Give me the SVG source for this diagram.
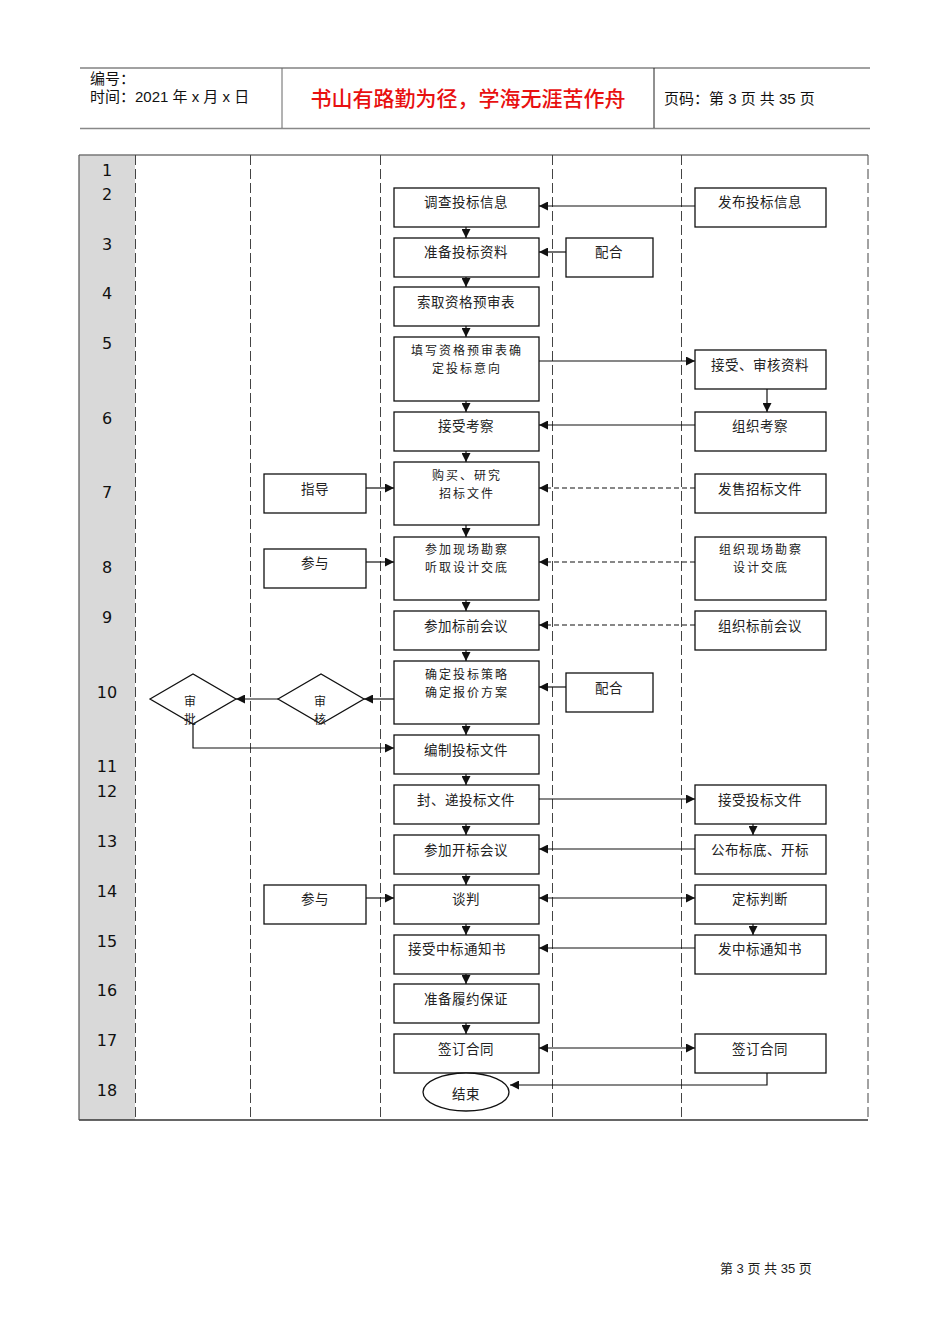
<svg xmlns="http://www.w3.org/2000/svg" width="950" height="1344" viewBox="0 0 950 1344">
<style>
.hdr{font-family:"Liberation Sans","Noto Sans CJK SC",sans-serif;font-size:15px;fill:#111}
.title{font-family:"Noto Sans CJK SC",sans-serif;font-size:21px;font-weight:500;fill:#e81010;text-anchor:middle}
.num{font-family:"DejaVu Sans","Liberation Sans",sans-serif;font-size:16px;fill:#111;text-anchor:middle;dominant-baseline:central}
.box{fill:#fff;stroke:#111;stroke-width:1.3}
.t{font-family:"Noto Sans CJK SC",sans-serif;font-size:13.5px;fill:#222;text-anchor:middle;dominant-baseline:central;letter-spacing:0.5px}
.t2{font-family:"Noto Sans CJK SC",sans-serif;font-size:12px;fill:#222;text-anchor:middle;dominant-baseline:central;letter-spacing:2px}
.lane{stroke:#444;stroke-width:1;stroke-dasharray:10,4;fill:none}
.ln{stroke:#111;stroke-width:1.2;fill:none}
.dl{stroke:#111;stroke-width:1.2;fill:none;stroke-dasharray:5,3}
.foot{font-family:"Liberation Sans","Noto Sans CJK SC",sans-serif;font-size:13px;fill:#222}
</style>
<defs>
<marker id="ah" viewBox="0 0 10 10" refX="10" refY="5" markerWidth="9" markerHeight="9" markerUnits="userSpaceOnUse" orient="auto-start-reverse">
<path d="M0,0 L10,5 L0,10 z" fill="#111"/>
</marker>
</defs>
<rect width="950" height="1344" fill="#fff"/>
<g id="header">
<line x1="80" y1="68" x2="870" y2="68" stroke="#444" stroke-width="1.2"/>
<line x1="80" y1="128.5" x2="870" y2="128.5" stroke="#888" stroke-width="1.5"/>
<line x1="282" y1="68" x2="282" y2="128" stroke="#666" stroke-width="1"/>
<line x1="654" y1="68" x2="654" y2="128" stroke="#222" stroke-width="1"/>
<text class="hdr" x="90" y="84">编号：</text>
<text class="hdr" x="90" y="102">时间：2021 年 x 月 x 日</text>
<text class="title" x="468" y="106">书山有路勤为径，学海无涯苦作舟</text>
<text class="hdr" x="664" y="104">页码：第 3 页 共 35 页</text>
</g>
<g id="table">
<rect x="79" y="155" width="56" height="965" fill="#d9d9d9"/>
<line x1="79" y1="155" x2="868" y2="155" stroke="#777" stroke-width="1.5"/>
<line x1="79" y1="1120" x2="868" y2="1120" stroke="#333" stroke-width="1.5"/>
<line x1="79" y1="155" x2="79" y2="1120" stroke="#555" stroke-width="1.2"/>
<line class="lane" x1="135.5" y1="155" x2="135.5" y2="1120"/>
<line class="lane" x1="250.5" y1="155" x2="250.5" y2="1120"/>
<line class="lane" x1="380.5" y1="155" x2="380.5" y2="1120"/>
<line class="lane" x1="552.5" y1="155" x2="552.5" y2="1120"/>
<line class="lane" x1="681.5" y1="155" x2="681.5" y2="1120"/>
<line class="lane" x1="868" y1="155" x2="868" y2="1120"/>
<text class="num" x="107" y="170">1</text>
<text class="num" x="107" y="194">2</text>
<text class="num" x="107" y="244">3</text>
<text class="num" x="107" y="293">4</text>
<text class="num" x="107" y="343">5</text>
<text class="num" x="107" y="418">6</text>
<text class="num" x="107" y="492">7</text>
<text class="num" x="107" y="567">8</text>
<text class="num" x="107" y="617">9</text>
<text class="num" x="107" y="692">10</text>
<text class="num" x="107" y="766">11</text>
<text class="num" x="107" y="791">12</text>
<text class="num" x="107" y="841">13</text>
<text class="num" x="107" y="891">14</text>
<text class="num" x="107" y="941">15</text>
<text class="num" x="107" y="990">16</text>
<text class="num" x="107" y="1040">17</text>
<text class="num" x="107" y="1090">18</text>
</g>
<g id="connectors">
<line class="ln" x1="466" y1="227" x2="466" y2="238" marker-end="url(#ah)"/>
<line class="ln" x1="466" y1="277" x2="466" y2="287" marker-end="url(#ah)"/>
<line class="ln" x1="466" y1="326" x2="466" y2="337" marker-end="url(#ah)"/>
<line class="ln" x1="466" y1="401" x2="466" y2="412" marker-end="url(#ah)"/>
<line class="ln" x1="466" y1="451" x2="466" y2="462" marker-end="url(#ah)"/>
<line class="ln" x1="466" y1="525" x2="466" y2="537" marker-end="url(#ah)"/>
<line class="ln" x1="466" y1="600" x2="466" y2="611" marker-end="url(#ah)"/>
<line class="ln" x1="466" y1="650" x2="466" y2="661" marker-end="url(#ah)"/>
<line class="ln" x1="466" y1="724" x2="466" y2="735" marker-end="url(#ah)"/>
<line class="ln" x1="466" y1="774" x2="466" y2="785" marker-end="url(#ah)"/>
<line class="ln" x1="466" y1="824" x2="466" y2="835" marker-end="url(#ah)"/>
<line class="ln" x1="466" y1="874" x2="466" y2="885" marker-end="url(#ah)"/>
<line class="ln" x1="466" y1="924" x2="466" y2="935" marker-end="url(#ah)"/>
<line class="ln" x1="466" y1="974" x2="466" y2="984" marker-end="url(#ah)"/>
<line class="ln" x1="466" y1="1023" x2="466" y2="1034" marker-end="url(#ah)"/>
<line class="ln" x1="695" y1="206" x2="539" y2="206" marker-end="url(#ah)"/>
<line class="ln" x1="566" y1="252" x2="539" y2="252" marker-end="url(#ah)"/>
<line class="ln" x1="539" y1="361" x2="695" y2="361" marker-end="url(#ah)"/>
<line class="ln" x1="767" y1="389" x2="767" y2="412" marker-end="url(#ah)"/>
<line class="ln" x1="695" y1="425" x2="539" y2="425" marker-end="url(#ah)"/>
<line class="dl" x1="695" y1="488" x2="539" y2="488" marker-end="url(#ah)"/>
<line class="ln" x1="366" y1="488" x2="394" y2="488" marker-end="url(#ah)"/>
<line class="ln" x1="366" y1="562" x2="394" y2="562" marker-end="url(#ah)"/>
<line class="dl" x1="695" y1="562" x2="539" y2="562" marker-end="url(#ah)"/>
<line class="dl" x1="695" y1="625" x2="539" y2="625" marker-end="url(#ah)"/>
<line class="ln" x1="566" y1="687" x2="539" y2="687" marker-end="url(#ah)"/>
<line class="ln" x1="394" y1="699" x2="364" y2="699" marker-end="url(#ah)"/>
<line class="ln" x1="278" y1="699" x2="236" y2="699" marker-end="url(#ah)"/>
<polyline class="ln" points="193,724 193,748 394,748" marker-end="url(#ah)"/>
<line class="ln" x1="539" y1="799" x2="695" y2="799" marker-end="url(#ah)"/>
<line class="ln" x1="753" y1="824" x2="753" y2="835" marker-end="url(#ah)"/>
<line class="ln" x1="695" y1="849" x2="539" y2="849" marker-end="url(#ah)"/>
<line class="ln" x1="539" y1="898" x2="695" y2="898" marker-start="url(#ah)" marker-end="url(#ah)"/>
<line class="ln" x1="366" y1="898" x2="394" y2="898" marker-end="url(#ah)"/>
<line class="ln" x1="753" y1="924" x2="753" y2="935" marker-end="url(#ah)"/>
<line class="ln" x1="695" y1="948" x2="539" y2="948" marker-end="url(#ah)"/>
<line class="ln" x1="539" y1="1048" x2="695" y2="1048" marker-start="url(#ah)" marker-end="url(#ah)"/>
<polyline class="ln" points="767,1073 767,1085 510,1085" marker-end="url(#ah)"/>
</g>
<g id="n1"><rect class="box" x="394" y="188" width="145" height="39"/><text class="t" x="466" y="201">调查投标信息</text></g>
<g id="n2"><rect class="box" x="394" y="238" width="145" height="39"/><text class="t" x="466" y="251">准备投标资料</text></g>
<g id="n3"><rect class="box" x="394" y="287" width="145" height="39"/><text class="t" x="466" y="301">索取资格预审表</text></g>
<g id="n4"><rect class="box" x="394" y="337" width="145" height="64"/><text class="t2" x="467" y="349">填写资格预审表确</text><text class="t2" x="467" y="367">定投标意向</text></g>
<g id="n5"><rect class="box" x="394" y="412" width="145" height="39"/><text class="t" x="466" y="425">接受考察</text></g>
<g id="n6"><rect class="box" x="394" y="462" width="145" height="63"/><text class="t2" x="467" y="474">购买、研究</text><text class="t2" x="467" y="492">招标文件</text></g>
<g id="n7"><rect class="box" x="394" y="537" width="145" height="63"/><text class="t2" x="467" y="548">参加现场勘察</text><text class="t2" x="467" y="566">听取设计交底</text></g>
<g id="n8"><rect class="box" x="394" y="611" width="145" height="39"/><text class="t" x="466" y="625">参加标前会议</text></g>
<g id="n9"><rect class="box" x="394" y="661" width="145" height="63"/><text class="t2" x="467" y="673">确定投标策略</text><text class="t2" x="467" y="691">确定报价方案</text></g>
<g id="n10"><rect class="box" x="394" y="735" width="145" height="39"/><text class="t" x="466" y="749">编制投标文件</text></g>
<g id="n11"><rect class="box" x="394" y="785" width="145" height="39"/><text class="t" x="466" y="799">封、递投标文件</text></g>
<g id="n12"><rect class="box" x="394" y="835" width="145" height="39"/><text class="t" x="466" y="849">参加开标会议</text></g>
<g id="n13"><rect class="box" x="394" y="885" width="145" height="39"/><text class="t" x="466" y="898">谈判</text></g>
<g id="n14"><rect class="box" x="394" y="935" width="145" height="39"/><text class="t" x="457" y="948">接受中标通知书</text></g>
<g id="n15"><rect class="box" x="394" y="984" width="145" height="39"/><text class="t" x="466" y="998">准备履约保证</text></g>
<g id="n16"><rect class="box" x="394" y="1034" width="145" height="39"/><text class="t" x="466" y="1048">签订合同</text></g>
<g id="n17"><ellipse class="box" cx="466" cy="1092" rx="43" ry="19"/><text class="t" x="466" y="1093">结束</text></g>
<g id="r1"><rect class="box" x="695" y="188" width="131" height="39"/><text class="t" x="760" y="201">发布投标信息</text></g>
<g id="r2"><rect class="box" x="695" y="350" width="131" height="39"/><text class="t" x="760" y="364">接受、审核资料</text></g>
<g id="r3"><rect class="box" x="695" y="412" width="131" height="39"/><text class="t" x="760" y="425">组织考察</text></g>
<g id="r4"><rect class="box" x="695" y="474" width="131" height="39"/><text class="t" x="760" y="488">发售招标文件</text></g>
<g id="r5"><rect class="box" x="695" y="537" width="131" height="63"/><text class="t2" x="761" y="548">组织现场勘察</text><text class="t2" x="761" y="566">设计交底</text></g>
<g id="r6"><rect class="box" x="695" y="611" width="131" height="39"/><text class="t" x="760" y="625">组织标前会议</text></g>
<g id="r7"><rect class="box" x="695" y="785" width="131" height="39"/><text class="t" x="760" y="799">接受投标文件</text></g>
<g id="r8"><rect class="box" x="695" y="835" width="131" height="39"/><text class="t" x="760" y="849">公布标底、开标</text></g>
<g id="r9"><rect class="box" x="695" y="885" width="131" height="39"/><text class="t" x="760" y="898">定标判断</text></g>
<g id="r10"><rect class="box" x="695" y="935" width="131" height="39"/><text class="t" x="760" y="948">发中标通知书</text></g>
<g id="r11"><rect class="box" x="695" y="1034" width="131" height="39"/><text class="t" x="760" y="1048">签订合同</text></g>
<g id="m1"><rect class="box" x="566" y="238" width="87" height="39"/><text class="t" x="609" y="251">配合</text></g>
<g id="m2"><rect class="box" x="566" y="673" width="87" height="39"/><text class="t" x="609" y="687">配合</text></g>
<g id="l1"><rect class="box" x="264" y="474" width="102" height="39"/><text class="t" x="315" y="488">指导</text></g>
<g id="l2"><rect class="box" x="264" y="549" width="102" height="39"/><text class="t" x="315" y="562">参与</text></g>
<g id="l3"><rect class="box" x="264" y="885" width="102" height="39"/><text class="t" x="315" y="898">参与</text></g>
<g id="d1"><polygon class="box" points="278,699 321,674 364,699 321,724"/><text class="t2" x="320" y="700" style="letter-spacing:0">审</text><text class="t2" x="320" y="718" style="letter-spacing:0">核</text></g>
<g id="d2"><polygon class="box" points="150,699 193,674 236,699 193,724"/><text class="t2" x="190" y="700" style="letter-spacing:0">审</text><text class="t2" x="190" y="718" style="letter-spacing:0">批</text></g>
<g id="footer"><text class="foot" x="720" y="1273">第 3 页 共 35 页</text></g>
</svg>
